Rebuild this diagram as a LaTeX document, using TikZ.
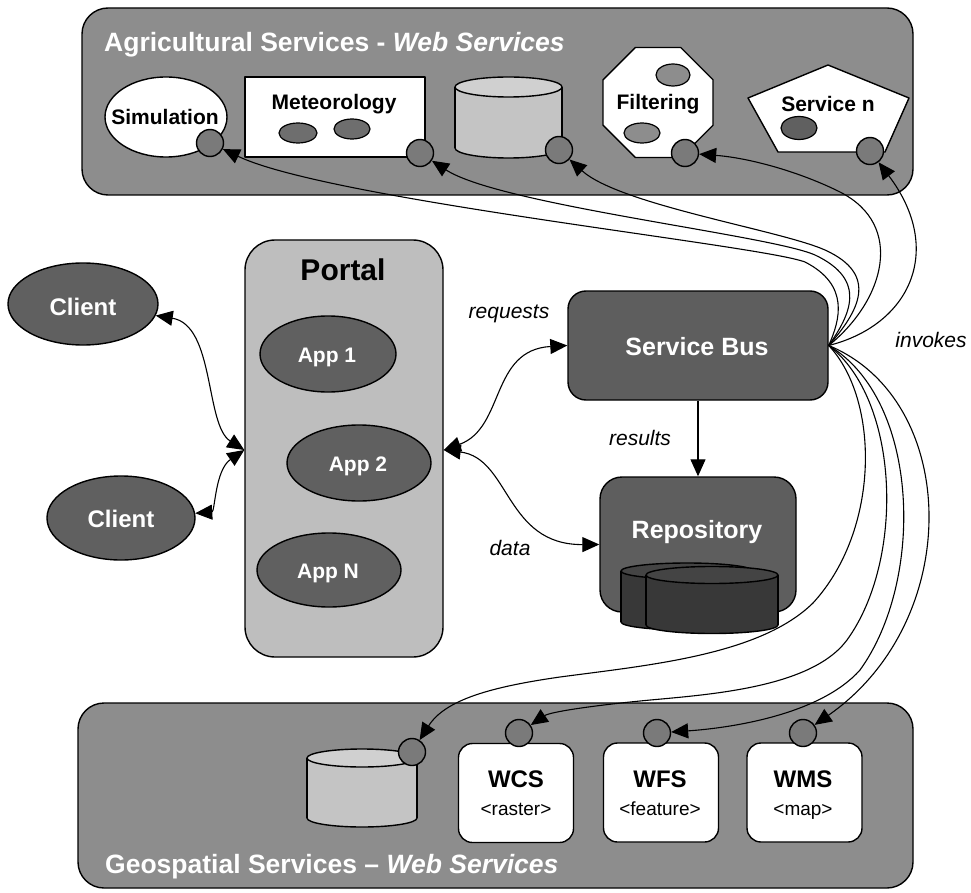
\documentclass[tikz,border=0pt]{standalone}
\usepackage{fontspec}
\setmainfont{Liberation Sans}
\usetikzlibrary{arrows.meta,shapes.geometric}

\definecolor{panelgray}{HTML}{8D8D8D}
\definecolor{portgray}{HTML}{7A7A7A}
\definecolor{portalgray}{HTML}{BEBEBE}
\definecolor{nodegray}{HTML}{606060}
\definecolor{busgray}{HTML}{5E5E5E}
\definecolor{diskdark}{HTML}{383838}
\definecolor{disktopdark}{HTML}{444444}
\definecolor{disklight}{HTML}{C4C4C4}
\definecolor{disktoplight}{HTML}{D0D0D0}

\newcommand{\pxfont}[1]{\fontsize{#1pt}{#1pt}\selectfont}

% drum: x-left, x-right, y-top, y-bottom, y-radius, body colour, lid colour
\newcommand{\drumshape}[7]{%
  \filldraw[outline,fill=#6] ({(#1+#2)/2},#4) ellipse[x radius={(#2-#1)/2},y radius=#5];
  \fill[#6] (#1,#3) rectangle (#2,#4);
  \draw[outline] (#1,#3) -- (#1,#4) (#2,#3) -- (#2,#4);
  \filldraw[outline,fill=#7] ({(#1+#2)/2},#3) ellipse[x radius={(#2-#1)/2},y radius=#5];
}

\begin{document}
\begin{tikzpicture}[x=1pt,y=-1pt,line join=round,
  outline/.style={draw=black,line width=1.4pt},
  panelbox/.style={rectangle,outline,fill=panelgray,rounded corners=26pt,inner sep=0pt},
  port/.style={circle,outline,fill=portgray,minimum size=27pt,inner sep=0pt},
  darkell/.style={ellipse,outline,fill=nodegray,inner sep=0pt},
  smallell/.style={ellipse,draw=black,line width=1.2pt,inner sep=0pt},
  svcbox/.style={rectangle,rounded corners=14pt,outline,fill=white,minimum width=115pt,minimum height=99pt,inner sep=0pt},
  conn/.style={line width=1.1pt},
  arr/.style={conn,-{Triangle[length=17pt,width=15pt]}},
  both/.style={conn,{Triangle[length=17pt,width=15pt]}-{Triangle[length=17pt,width=15pt]}},
  blabel/.style={inner sep=0pt,anchor=base,font=\bfseries\pxfont{21}},
  wlabel/.style={inner sep=0pt,anchor=base,text=white,font=\bfseries\pxfont{#1}},
  ilabel/.style={inner sep=0pt,anchor=base,font=\itshape\pxfont{21}},
  title/.style={inner sep=0pt,anchor=base west,text=white,font=\bfseries\pxfont{26.5}}
]
\useasboundingbox (0,0) rectangle (971,893);
\fill[white] (0,0) rectangle (971,893);

% ---- service panels
\node[panelbox,minimum width=831pt,minimum height=187pt] (agri) at (497.5,101.5) {};
\node[title] (agrititle) at (104,52) {Agricultural Services - \textit{Web Services}};
\node[panelbox,minimum width=835pt,minimum height=185pt] (geo) at (495.5,795.5) {};
\node[title] (geotitle) at (105,873) {Geospatial Services -- \textit{Web Services}};

% ---- agricultural services
\node[ellipse,outline,fill=white,minimum width=122pt,minimum height=80pt,inner sep=0pt] (sim) at (166,117) {};
\node[blabel] (simlabel) at (165,125) {Simulation};

\node[rectangle,outline,fill=white,minimum width=180pt,minimum height=80pt,inner sep=0pt] (met) at (335,117) {};
\node[blabel] (metlabel) at (334,110) {Meteorology};
\node[smallell,fill=portgray!90!black,minimum width=38pt,minimum height=20pt] (metdot1) at (298,133) {};
\node[smallell,fill=portgray!90!black,minimum width=36pt,minimum height=20pt] (metdot2) at (352,129) {};

\drumshape{455}{562}{87}{148}{10}{disklight}{disktoplight}

\node[regular polygon,regular polygon sides=8,outline,fill=white,minimum size=119pt,inner sep=0pt] (fil) at (658,102.5) {};
\node[blabel] (fillabel) at (658,110) {Filtering};
\node[smallell,fill=panelgray,minimum width=34pt,minimum height=22pt] (fildot1) at (673,75) {};
\node[smallell,fill=panelgray,minimum width=36pt,minimum height=20pt] (fildot2) at (642,133) {};

\filldraw[outline,fill=white] (828,65) -- (909,98) -- (885,152) -- (778,152) -- (748,98) -- cycle;
\node[blabel] (srvlabel) at (828,112) {Service n};
\node[smallell,fill=nodegray,minimum width=36pt,minimum height=23pt] (srvdot) at (799,128) {};

\node[port] (psim) at (210,143) {};
\node[port] (pmet) at (420,153) {};
\node[port] (pcyl) at (559,150) {};
\node[port] (pfil) at (685,153) {};
\node[port] (psrv) at (870,151) {};

% ---- clients and portal
\node[darkell,minimum width=150pt,minimum height=82pt] (c1) at (83,304) {};
\node[wlabel=24] (c1label) at (83,315) {Client};
\node[darkell,minimum width=148pt,minimum height=84pt] (c2) at (121,518) {};
\node[wlabel=24] (c2label) at (121,527) {Client};

\node[rectangle,rounded corners=30pt,outline,fill=portalgray,minimum width=198pt,minimum height=417pt,inner sep=0pt] (portal) at (344,448.5) {};
\node[inner sep=0pt,anchor=base,font=\bfseries\pxfont{30}] (portallabel) at (343,280) {Portal};
\node[darkell,minimum width=136pt,minimum height=76pt] (app1) at (328,354) {};
\node[wlabel=21] (app1label) at (327,362) {App 1};
\node[darkell,minimum width=144pt,minimum height=76pt] (app2) at (359,463) {};
\node[wlabel=21] (app2label) at (358,471) {App 2};
\node[darkell,minimum width=144pt,minimum height=74pt] (appn) at (329,570) {};
\node[wlabel=21] (appnlabel) at (328,578) {App N};

% ---- bus and repository
\node[rectangle,rounded corners=18pt,outline,fill=busgray,minimum width=260pt,minimum height=109pt,inner sep=0pt] (sb) at (698,345.5) {};
\node[wlabel=25] (sblabel) at (697,355) {Service Bus};
\node[rectangle,rounded corners=22pt,outline,fill=busgray,minimum width=196pt,minimum height=135pt,inner sep=0pt] (repo) at (698,544.5) {};
\node[wlabel=25] (repolabel) at (697,538) {Repository};
\drumshape{621}{753}{571}{622}{8}{diskdark}{disktopdark}
\drumshape{646}{778}{575}{625}{8.5}{diskdark}{disktopdark}

% ---- geospatial services
\drumshape{307}{417}{758}{818}{9}{disklight}{disktoplight}
\node[svcbox] (wcs) at (516,793) {};
\node[svcbox] (wfs) at (661,792.5) {};
\node[svcbox] (wms) at (804.5,792.5) {};
\node[inner sep=0pt,anchor=base,font=\bfseries\pxfont{24}] (wcsname) at (516,787) {WCS};
\node[inner sep=0pt,anchor=base,font=\pxfont{19}] (wcstype) at (516,815) {\textless raster\textgreater};
\node[inner sep=0pt,anchor=base,font=\bfseries\pxfont{24}] (wfsname) at (660,787) {WFS};
\node[inner sep=0pt,anchor=base,font=\pxfont{19}] (wfstype) at (660,815) {\textless feature\textgreater};
\node[inner sep=0pt,anchor=base,font=\bfseries\pxfont{24}] (wmsname) at (803,787) {WMS};
\node[inner sep=0pt,anchor=base,font=\pxfont{19}] (wmstype) at (803,815) {\textless map\textgreater};

\node[port] (pgcyl) at (412,752) {};
\node[port] (pwcs) at (519,733) {};
\node[port] (pwfs) at (657,733) {};
\node[port] (pwms) at (803,733) {};

% ---- connectors
\coordinate (pl) at (portal.west |- 0,450);
\coordinate (pr) at (portal.east |- 0,450);
\coordinate (hub) at (sb.east);

\draw[both] (c1) .. controls (215,325) and (205,425) .. (pl);
\draw[both] (c2) .. controls (215,512) and (215,470) .. (pl);
\draw[both] (pr) .. controls (505,428) and (490,350) .. (sb.west);
\draw[both] (pr) .. controls (510,458) and (505,545) .. (repo.west);
\draw[arr] (sb.south) -- (repo.north);

\draw[arr] (hub) .. controls (840,320) and (850,285) .. (805,262) .. controls (760,245) and (330,200) .. (psim);
\draw[arr] (hub) .. controls (850,315) and (868,280) .. (815,255) .. controls (770,235) and (500,205) .. (pmet);
\draw[arr] (hub) .. controls (858,312) and (880,275) .. (825,250) .. controls (780,230) and (620,205) .. (pcyl);
\draw[arr] (hub) .. controls (885,300) and (905,225) .. (840,192) .. controls (800,172) and (750,158) .. (pfil);
\draw[arr] (hub) .. controls (910,325) and (945,250) .. (psrv);

\draw[arr] (hub) .. controls (880,400) and (880,530) .. (813,603) .. controls (760,655) and (650,665) .. (560,677) .. controls (490,687) and (445,700) .. (pgcyl);
\draw[arr] (hub) .. controls (900,400) and (905,560) .. (847,640) .. controls (810,690) and (700,695) .. (640,701) .. controls (590,706) and (550,712) .. (pwcs);
\draw[arr] (hub) .. controls (920,400) and (925,580) .. (860,670) .. controls (820,715) and (730,728) .. (pwfs);
\draw[arr] (hub) .. controls (960,400) and (965,620) .. (pwms);

% ---- connector labels
\node[ilabel] (reqlabel) at (509,318) {requests};
\node[ilabel] (reslabel) at (640,445) {results};
\node[ilabel] (datalabel) at (510,555) {data};
\node[ilabel] (invlabel) at (931,347) {invokes};
\end{tikzpicture}
\end{document}
